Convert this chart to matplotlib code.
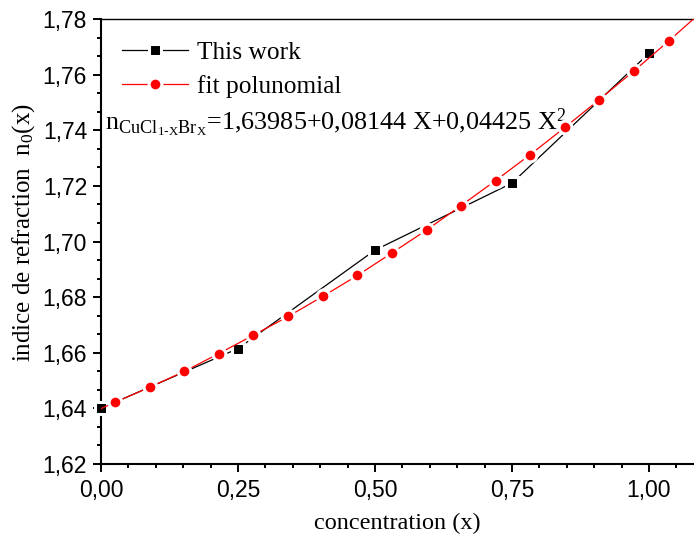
import matplotlib
matplotlib.use("Agg")
import matplotlib.pyplot as plt
from matplotlib.ticker import MultipleLocator, AutoMinorLocator, FuncFormatter

# measured refractive index n0(x) of CuCl(1-x)Br(x)
work_x = [0.00, 0.25, 0.50, 0.75, 1.00]
work_y = [1.6400, 1.6615, 1.6969, 1.7210, 1.7677]

# polynomial fit samples (markers) and the fit curve running to the frame edge
fit_x = [0.0255, 0.089, 0.152, 0.215, 0.278, 0.342, 0.405, 0.468, 0.531,
         0.594, 0.657, 0.720, 0.783, 0.847, 0.909, 0.973, 1.036]
fit_y = [1.6422, 1.6476, 1.6533, 1.6597, 1.6663, 1.6731, 1.6803, 1.6878, 1.6959,
         1.7041, 1.7129, 1.7219, 1.7312, 1.7411, 1.7510, 1.7614, 1.7721]
curve_x = [0.0] + fit_x + [1.10]
curve_y = [1.6399] + fit_y + [1.7833]

serif = "Liberation Serif"
sans = "Liberation Sans"

sq = dict(ms=8.6, mec="white", mew=2.2)
dot = dict(ms=9.2, mec="white", mew=2.2)

fig = plt.figure(figsize=(6.94, 5.35), dpi=100)
ax = fig.add_axes([101 / 694, 71 / 535, 593 / 694, 445 / 535])

ax.plot(work_x, work_y, "-", color="black", lw=0.9, zorder=2)
ax.plot(work_x, work_y, "s", color="black", zorder=3, clip_on=False, **sq)
ax.plot(curve_x, curve_y, "-", color="red", lw=0.9, zorder=4)
ax.plot(fit_x, fit_y, "o", color="red", zorder=5, **dot)

# legend proxies: line - marker - line
h1, = ax.plot([], [], "-s", color="black", lw=0.9, **sq)
h2, = ax.plot([], [], "-o", color="red", lw=0.9, **dot)
leg = ax.legend([h1, h2], ["This work", "fit polunomial"], loc="upper left",
                bbox_to_anchor=(0.035, 0.95), frameon=False, borderpad=0,
                borderaxespad=0, handlelength=2.6, handletextpad=0.35,
                labelspacing=0.42, prop={"family": serif, "size": 18.3})

ax.text(0.008, 1.74,
        r"$\mathregular{n_{CuCl_{1\text{-}X}Br_X}}$=1,63985+0,08144 X+0,04425 X$\mathregular{^2}$",
        family=serif, fontsize=18.8, ha="left", va="baseline")

ax.set_xlim(0, 593 / 548)
ax.set_ylim(1.62, 1.78)
ax.xaxis.set_major_locator(MultipleLocator(0.25))
ax.xaxis.set_minor_locator(AutoMinorLocator(5))
ax.yaxis.set_major_locator(MultipleLocator(0.02))
ax.yaxis.set_minor_locator(AutoMinorLocator(3))
ax.xaxis.set_major_formatter(FuncFormatter(lambda v, p: f"{v:.2f}".replace(".", ",")))
ax.yaxis.set_major_formatter(FuncFormatter(lambda v, p: f"{v:.2f}".replace(".", ",")))

ax.spines["right"].set_visible(False)
ax.spines["left"].set_linewidth(1.5)
ax.spines["bottom"].set_linewidth(1.5)
ax.spines["top"].set_linewidth(1.0)
ax.tick_params(which="both", direction="out", top=False, right=False, width=1.4)
ax.tick_params(which="major", length=5.5)
ax.tick_params(which="minor", length=3)
ax.tick_params(axis="y", which="major", pad=4.5)
ax.tick_params(axis="x", which="major", pad=5)
for lab in ax.get_xticklabels() + ax.get_yticklabels():
    lab.set_family(sans)
    lab.set_fontsize(16.5)

ax.set_xlabel("concentration (x)", family=serif, fontsize=17.5, labelpad=8)
fig.text(0.034, 0.566, r"indice de refraction  n$\mathregular{_0}$(x)",
         family=serif, fontsize=18, rotation=90, ha="center", va="center")

fig.savefig("out.png", dpi=100)
